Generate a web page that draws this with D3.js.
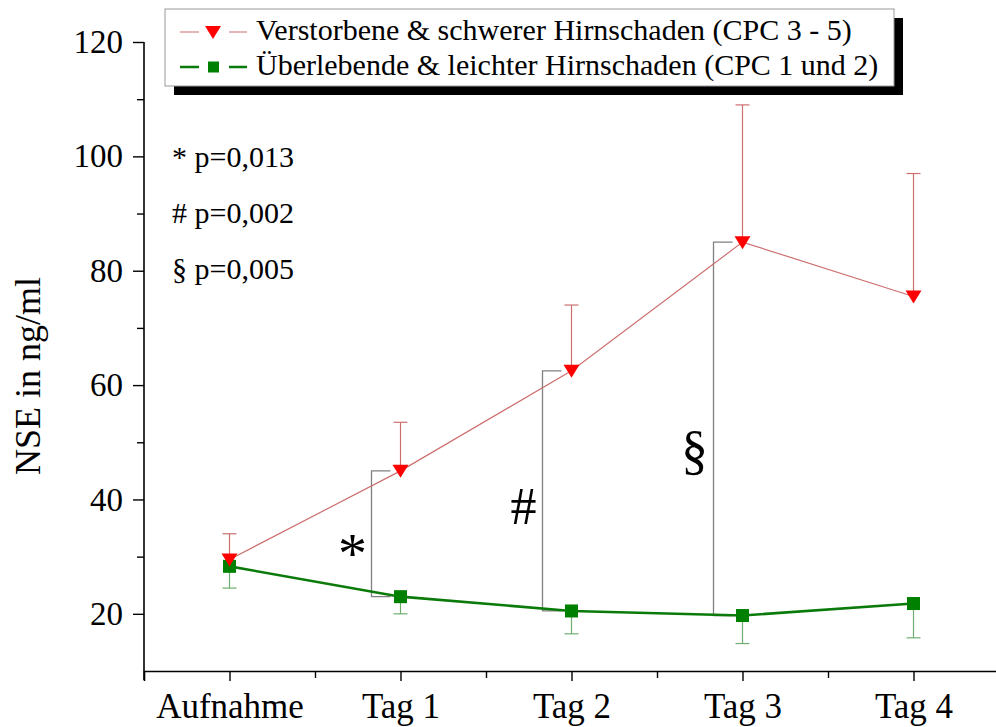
<!DOCTYPE html>
<html>
<head>
<meta charset="utf-8">
<script src="https://cdn.jsdelivr.net/npm/d3@7"></script>
<style>
  body { margin: 0; background: #fff; }
  svg { display: block; font-family: "Liberation Serif", "Times New Roman", serif; }
</style>
</head>
<body>
<svg id="chart" width="996" height="727"></svg>
<script>
// categories + values
var categories = ["Aufnahme", "Tag 1", "Tag 2", "Tag 3", "Tag 4"];
var deadMean = [29.5, 45.0, 62.5, 85.0, 75.5];
var deadErrTop = [34.0, 53.5, 74.0, 109.0, 97.0];
var aliveMean = [28.3, 23.0, 20.5, 19.7, 21.8];
var aliveErrBottom = [24.5, 20.0, 16.5, 14.8, 15.8];
var yMajor = [20, 40, 60, 80, 100, 120];
var yMinor = [30, 50, 70, 90, 110];
// significance brackets: category index, symbol, level (ng/ml) where the symbol sits
var brackets = [
  { i: 1, sym: "*", at: 32.4 },
  { i: 2, sym: "#", at: 38.7 },
  { i: 3, sym: "\u00a7", at: 48.3 }
];
var pNotes = ["* p=0,013", "# p=0,002", "\u00a7 p=0,005"];
var legendLabels = ["Verstorbene & schwerer Hirnschaden (CPC 3 - 5)",
                    "\u00dcberlebende & leichter Hirnschaden (CPC 1 und 2)"];

var redLine = "#cd6f6f", redFill = "#ff0000", greenLine = "#0a7a0a", greenFill = "#008000", greenErr = "#6fae6f";

var svg = d3.select("#chart");

var x = d3.scaleLinear().domain([-0.5, 4.5]).range([144, 999]);
var y = d3.scaleLinear().domain([10, 120]).range([671, 42]);

/*
    axes
*/
var yAxis = svg.append("g").attr("transform", "translate(144,0)")
  .call(d3.axisLeft(y).tickValues(yMajor).tickSize(11).tickPadding(10).tickFormat(d3.format("d")));
svg.append("g").attr("transform", "translate(144,0)")
  .call(d3.axisLeft(y).tickValues(yMinor).tickSize(7).tickFormat(""))
  .select(".domain").remove();

var xAxis = svg.append("g").attr("transform", "translate(0,671)")
  .call(d3.axisBottom(x).tickValues(d3.range(categories.length)).tickSize(10).tickPadding(12)
    .tickFormat(function(d){ return categories[d]; }));
svg.append("g").attr("transform", "translate(0,671)")
  .call(d3.axisBottom(x).tickValues([0.5, 1.5, 2.5, 3.5]).tickSize(7).tickFormat(""))
  .select(".domain").remove();

svg.selectAll(".domain").attr("stroke", "#000").attr("stroke-width", 1.6);
svg.selectAll(".tick line").attr("stroke", "#000").attr("stroke-width", 1.4);
svg.selectAll(".tick text").attr("font-family", "Liberation Serif").attr("fill", "#000");
yAxis.selectAll(".tick text").attr("font-size", 33);
xAxis.selectAll(".tick text").attr("font-size", 35);
yAxis.select(".domain").attr("d", "M0," + y(120) + "V" + (y(10) + 9));

svg.append("text")
  .attr("transform", "translate(40,376) rotate(-90)")
  .attr("text-anchor", "middle")
  .attr("font-size", 36)
  .text("NSE in ng/ml");

/*
    significance brackets
*/
var symSize = { "*": 58, "#": 52, "\u00a7": 54 };
var symShift = { "*": 0.52, "#": 0.33, "\u00a7": 0.30 };
brackets.forEach(function(b){
  var bx = x(b.i) - 29;
  var yt = y(deadMean[b.i]), yb = y(aliveMean[b.i]);
  svg.append("path")
    .attr("d", "M" + (bx + 19) + "," + yt + "H" + bx + "V" + yb + "H" + (bx + 19))
    .attr("fill", "none").attr("stroke", "#808080").attr("stroke-width", 1.3);
  var s = symSize[b.sym];
  svg.append("text")
    .attr("x", bx - 19).attr("y", y(b.at) + symShift[b.sym] * s)
    .attr("text-anchor", "middle")
    .attr("font-size", s)
    .text(b.sym);
});

/*
    error bars
*/
function errBar(xi, from, to, col){
  var g = svg.append("g").attr("stroke", col).attr("stroke-width", 1.2);
  g.append("line").attr("x1", x(xi)).attr("x2", x(xi)).attr("y1", y(from)).attr("y2", y(to));
  g.append("line").attr("x1", x(xi) - 7).attr("x2", x(xi) + 7).attr("y1", y(to)).attr("y2", y(to));
}
deadMean.forEach(function(v, i){ errBar(i, v, deadErrTop[i], redLine); });
aliveMean.forEach(function(v, i){ errBar(i, v, aliveErrBottom[i], greenErr); });

/*
    lines + markers
*/
var line = d3.line().x(function(d, i){ return x(i); }).y(function(d){ return y(d); });

svg.append("path").datum(aliveMean).attr("d", line)
  .attr("fill", "none").attr("stroke", greenLine).attr("stroke-width", 2.6);
svg.append("path").datum(deadMean).attr("d", line)
  .attr("fill", "none").attr("stroke", redLine).attr("stroke-width", 1.2);

var tri = "M-8,-6L8,-6L0,7Z";
svg.selectAll(".sq").data(aliveMean).enter().append("rect")
  .attr("x", function(d, i){ return x(i) - 6.5; })
  .attr("y", function(d){ return y(d) - 6.5; })
  .attr("width", 13).attr("height", 13)
  .attr("fill", greenFill);
svg.selectAll(".tri").data(deadMean).enter().append("path")
  .attr("d", tri)
  .attr("transform", function(d, i){ return "translate(" + x(i) + "," + y(d) + ")"; })
  .attr("fill", redFill);

/*
    p-value notes
*/
pNotes.forEach(function(t, i){
  svg.append("text").attr("x", 172).attr("y", 167 + i * 56)
    .attr("font-size", 30).text(t);
});

/*
    legend
*/
var lg = svg.append("g");
lg.append("rect").attr("x", 174).attr("y", 18).attr("width", 729).attr("height", 77).attr("fill", "#000");
lg.append("rect").attr("x", 165).attr("y", 9).attr("width", 729).attr("height", 77)
  .attr("fill", "#fff").attr("stroke", "#999").attr("stroke-width", 1);
[[redLine, 1.2, "tri"], [greenLine, 2.6, "sq"]].forEach(function(s, i){
  var ly = 32 + i * 35;
  lg.append("line").attr("x1", 180).attr("x2", 247).attr("y1", ly).attr("y2", ly)
    .attr("stroke", s[0]).attr("stroke-width", s[1]);
  lg.append("rect").attr("x", 199).attr("y", ly - 9).attr("width", 30).attr("height", 18).attr("fill", "#fff");
  if (s[2] == "tri")
    lg.append("path").attr("d", tri).attr("transform", "translate(213," + ly + ")").attr("fill", redFill);
  else
    lg.append("rect").attr("x", 208).attr("y", ly - 5.5).attr("width", 11).attr("height", 11).attr("fill", greenFill);
  lg.append("text").attr("x", 256).attr("y", ly + 8).attr("font-size", 30).text(legendLabels[i]);
});
</script>
</body>
</html>
